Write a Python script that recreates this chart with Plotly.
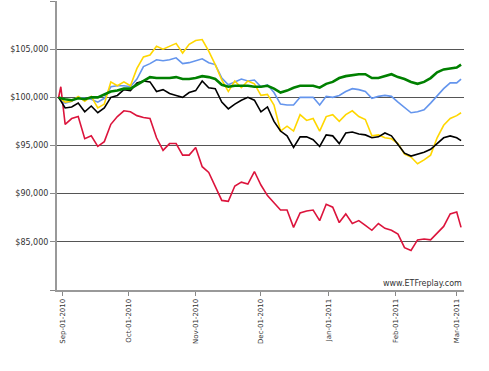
import pandas as pd
import plotly.graph_objects as go

# Dates: Aug-30/31-2010, then every 3 calendar days, plus the final point
grid = list(pd.date_range("2010-08-30", periods=62, freq="3D").strftime("%Y-%m-%d"))
dates = [grid[0], "2010-08-31"] + grid[1:] + ["2011-03-03"]

# Values in thousands of dollars (growth of $100,000)
red = [100.0, 101.1, 97.2, 97.8, 98.0, 95.7, 96.0, 94.9, 95.4, 97.2, 98.0,
       98.6, 98.5, 98.1, 97.9, 97.8, 95.8, 94.5, 95.2, 95.2, 94.0,
       94.0, 94.8, 92.8, 92.2, 90.8, 89.3, 89.2, 90.8, 91.2, 91.0,
       92.3, 90.9, 89.8, 89.0, 88.3, 88.3, 86.5, 88.0, 88.2, 88.3,
       87.2, 88.9, 88.6, 87.0, 87.9, 86.9, 87.2, 86.7, 86.2, 86.9,
       86.4, 86.2, 85.8, 84.4, 84.1, 85.2, 85.3, 85.2, 85.9, 86.6,
       87.9, 88.1, 86.5]
black = [100.0, 99.6, 98.9, 99.0, 99.4, 98.5, 99.1, 98.4, 98.9, 100.0, 100.2,
         100.8, 100.7, 101.5, 101.7, 101.6, 100.6, 100.8, 100.4, 100.2, 100.0,
         100.5, 100.7, 101.7, 101.0, 100.9, 99.5, 98.8, 99.3, 99.7, 100.0,
         99.7, 98.5, 99.0, 97.5, 96.5, 96.0, 94.8, 95.9, 95.9, 95.6,
         94.9, 96.1, 96.0, 95.2, 96.3, 96.4, 96.2, 96.1, 95.8, 95.9,
         96.3, 96.0, 95.1, 94.2, 93.9, 94.1, 94.3, 94.6, 95.2, 95.8,
         96.0, 95.8, 95.5]
yellow = [100.0, 99.8, 99.5, 99.6, 100.1, 99.6, 100.1, 98.9, 99.3, 101.6, 101.2,
          101.6, 101.2, 103.0, 104.2, 104.4, 105.3, 105.0, 105.3, 105.6, 104.6,
          105.5, 105.9, 106.0, 104.8, 103.4, 101.8, 100.6, 101.7, 101.0, 101.7,
          101.4, 100.2, 100.3, 99.2, 96.5, 97.0, 96.5, 98.2, 97.6, 97.8,
          96.5, 98.0, 98.2, 97.5, 98.2, 98.6, 98.0, 97.7, 96.0, 96.1,
          95.8, 95.7, 95.2, 94.1, 93.8, 93.1, 93.5, 94.0, 95.8, 97.1,
          97.8, 98.1, 98.4]
blue = [100.0, 99.7, 99.4, 99.6, 100.0, 99.9, 99.8, 99.5, 99.9, 101.1, 101.2,
        101.2, 101.1, 101.9, 103.2, 103.5, 103.9, 103.8, 103.9, 104.1, 103.5,
        103.6, 103.8, 104.0, 103.6, 103.4, 102.0, 101.3, 101.6, 101.9, 101.7,
        101.8, 101.1, 101.3, 100.5, 99.3, 99.2, 99.2, 100.0, 100.0, 100.0,
        99.2, 100.1, 100.0, 100.2, 100.6, 100.9, 100.8, 100.6, 99.9, 100.1,
        100.2, 100.1, 99.5, 98.9, 98.4, 98.5, 98.7, 99.4, 100.2, 100.9,
        101.5, 101.5, 101.9]
green = [100.0, 99.9, 99.8, 99.7, 99.9, 99.8, 100.0, 100.0, 100.3, 100.6, 100.7,
         100.9, 100.9, 101.3, 101.7, 102.1, 102.0, 102.0, 102.0, 102.1, 101.9,
         101.9, 102.0, 102.2, 102.1, 101.9, 101.3, 101.1, 101.2, 101.2, 101.2,
         101.1, 101.1, 101.2, 100.9, 100.5, 100.7, 101.0, 101.2, 101.2, 101.2,
         101.0, 101.4, 101.6, 102.0, 102.2, 102.3, 102.4, 102.4, 102.0, 102.0,
         102.2, 102.4, 102.1, 101.9, 101.6, 101.4, 101.6, 102.0, 102.6, 102.9,
         103.0, 103.1, 103.4]

y_tickvals = [80000, 85000, 90000, 95000, 100000, 105000, 110000]
y_ticktext = ["", "$85,000", "$90,000", "$95,000", "$100,000", "$105,000", ""]
x_tickvals = ["2010-09-01", "2010-10-01", "2010-11-01", "2010-12-01",
              "2011-01-01", "2011-02-01", "2011-03-01"]
x_ticktext = ["Sep-01-2010", "Oct-01-2010", "Nov-01-2010", "Dec-01-2010",
              "Jan-01-2011", "Feb-01-2011", "Mar-01-2011"]

series = [
    (red, "#DC143C", 1.6),
    (blue, "#6495ED", 1.6),
    (yellow, "#FFD700", 1.6),
    (black, "#000000", 1.6),
    (green, "#008000", 2.6),
]

fig = go.Figure()
for vals, color, w in series:
    fig.add_trace(go.Scatter(
        x=dates, y=[v * 1000 for v in vals], mode="lines",
        line=dict(color=color, width=w), hoverinfo="skip", showlegend=False))

fig.update_layout(
    width=489, height=371,
    margin=dict(l=57, r=25, t=1, b=81),
    paper_bgcolor="white", plot_bgcolor="white",
    font=dict(family="DejaVu Sans", size=8, color="#333333"),
    showlegend=False,
)
fig.update_xaxes(
    type="date",
    range=["2010-08-29 06:00", "2011-03-04 08:24"],
    tickvals=x_tickvals, ticktext=x_ticktext, tickangle=-90,
    tickfont=dict(size=7, color="#333333"),
    ticks="outside", ticklen=4, tickcolor="#888888", tickwidth=1,
    showgrid=False, zeroline=False,
    showline=True, linecolor="#999999", linewidth=2,
)
fig.update_yaxes(
    range=[80000, 110000],
    tickvals=y_tickvals, ticktext=y_ticktext,
    tickfont=dict(size=8, color="#333333"),
    ticks="outside", ticklen=5, tickcolor="#888888", tickwidth=1,
    showgrid=True, gridcolor="#555555", gridwidth=1,
    zeroline=False,
    showline=True, linecolor="#999999", linewidth=2,
)
fig.add_annotation(
    text="www.ETFreplay.com", xref="paper", yref="paper",
    x=1.0, y=0.024, xanchor="right", yanchor="middle",
    showarrow=False, font=dict(family="DejaVu Sans", size=8, color="#333333"),
)

fig.write_html(
    "out.html",
    config={"displayModeBar": False},
    post_script="document.body.style.margin='0';document.body.style.overflow='hidden';",
)
